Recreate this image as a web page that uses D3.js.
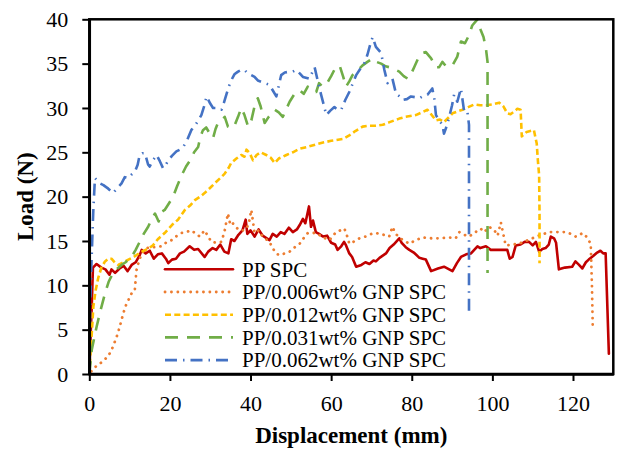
<!DOCTYPE html>
<html>
<head>
<meta charset="utf-8">
<script src="https://cdn.jsdelivr.net/npm/d3@7"></script>
<style>
  html, body { margin: 0; padding: 0; background: #fff; }
  svg { display: block; }
  text { font-family: "Liberation Serif", "Times New Roman", serif; fill: #000; }
</style>
</head>
<body>
<svg id="chart" width="618" height="452"></svg>
<script>
// ---------------- DATA ----------------
const seriesNames = ["PP SPC", "PP/0.006wt% GNP SPC", "PP/0.012wt% GNP SPC", "PP/0.031wt% GNP SPC", "PP/0.062wt% GNP SPC"];
const xTicks = [0, 20, 40, 60, 80, 100, 120];
const yTicks = [0, 5, 10, 15, 20, 25, 30, 35, 40];

// [displacement (mm), load (N)]
const ppSpc = [[0,0],[0.3,4],[0.6,7.6],[0.9,12.0],[1.8,12.4],[3,12],[4,11.8],[5,11.2],[5.5,11.8],[6.4,11.4],[7.5,11.9],[8.5,12.2],[9.5,11.6],[10.5,12.3],[11.5,12.6],[12.5,13.4],[13,14],[14,13.6],[15,13.9],[16,13.0],[17,13.5],[18,13.6],[19,13.0],[19.6,12.5],[20.5,12.9],[21.5,13.0],[22.5,13.6],[23.5,13.8],[24.9,14.4],[26,14.0],[27,14.1],[28.6,13.2],[29.5,13.8],[30.6,14.2],[31.5,14.0],[32.5,14.6],[33.5,13.8],[34.5,13.6],[35.2,15.2],[36,15.0],[37,15.7],[38,16.2],[38.8,17.4],[39.2,15.8],[40,16.2],[41,15.5],[42,16.3],[43,15.6],[44.7,15.1],[45.5,15.8],[46.5,15.5],[47.5,16.0],[48.4,15.8],[49.5,16.5],[50.5,16.0],[51.5,16.3],[52.2,16.8],[53,17.5],[53.6,17.0],[54.5,18.9],[55,16.6],[55.5,17.3],[56.2,16.0],[57,15.8],[58,15.5],[59,15.6],[60,14.8],[61,14.6],[61.6,14.0],[62.5,14.4],[63.2,14.9],[63.7,14.5],[64.5,13.6],[65.2,13.2],[66.2,12.1],[67.5,12.3],[68.5,12.6],[69.5,12.4],[70.5,12.8],[71.1,12.7],[72,13.1],[73.6,13.6],[74.5,14.2],[75.5,14.6],[76.9,15.3],[77.5,14.8],[78.5,14.3],[79.4,14.0],[80.5,13.7],[81.9,13.1],[82.7,13.0],[83.5,12.9],[84.8,11.6],[86.5,11.9],[88,12.1],[90.1,11.6],[91.2,12.5],[92.2,13.2],[93.5,13.5],[94.7,13.6],[95.5,14.0],[96.3,14.4],[97,14.2],[98.4,14.4],[99.6,14.0],[101,14.0],[103.7,14.0],[104.3,13.0],[105,13.2],[105.8,14.5],[107,14.6],[108,14.9],[109.1,14.9],[110,14.5],[110.8,14.9],[111.6,13.8],[112.4,14.1],[113.2,14.2],[114,14.6],[114.5,15.5],[115.3,15.3],[115.8,14.8],[116.5,11.8],[118,12.0],[119.8,12.1],[120.6,12.7],[121.5,12.3],[122.3,11.9],[123.2,12.6],[123.9,12.9],[125,13.3],[126,13.7],[126.8,13.9],[127.5,13.6],[128.1,13.6],[128.9,2.3]];

const gnp006 = [[0.5,0.3],[1.5,0.8],[3,1.3],[4.7,2.0],[5.8,3.0],[6.8,4.2],[7.6,5.4],[8.4,6.8],[9.2,7.9],[10.1,8.7],[10.8,9.4],[11.3,9.5],[11.7,11.7],[12.3,12.7],[13,13.6],[14.2,14.2],[16,14.3],[17.9,14.4],[19,14.8],[20.4,15.1],[21.5,15.5],[22.9,15.9],[24,16.0],[25.3,16.2],[26.5,15.8],[27.4,15.5],[28.6,16.2],[29.5,15.5],[30.3,14.9],[31.5,14.8],[32.8,14.9],[33.6,16.2],[34.4,18.1],[35,16.8],[35.6,17.0],[36.5,16.5],[37.3,16.2],[38.5,16.2],[39.5,16.8],[40.2,18.5],[41,15.9],[42,16.2],[43,15.5],[44.7,14.9],[45.5,14.2],[46.3,13.6],[47.2,13.4],[48.5,13.6],[49.7,13.8],[51,14.3],[52.2,14.7],[53.3,15.4],[54.2,15.9],[55.5,15.9],[56.3,15.9],[58,15.4],[59.6,15.1],[60.5,15.6],[61.2,16.0],[62.3,16.2],[63.3,16.4],[64,15.5],[64.5,14.7],[65.5,14.9],[67,15.3],[68.5,15.5],[70,15.8],[71.1,15.9],[73,15.7],[74.4,15.5],[75.2,16.6],[76,15.8],[77.5,15.2],[79.4,14.7],[81,15.1],[82.7,15.4],[85,15.3],[87,15.3],[89.3,15.4],[90.9,15.3],[91.8,16.0],[93,15.7],[94.2,15.5],[95.5,15.9],[97.1,16.4],[98,16.0],[99.2,16.6],[100.5,16.2],[101.3,15.6],[102.1,17.1],[103.3,14.5],[105,14.6],[106.6,14.7],[108.3,15.0],[109.9,15.3],[111.5,15.6],[112.8,15.8],[114,16.0],[116,16.0],[118.2,16.0],[119.5,15.8],[120.6,15.5],[121.5,15.6],[122.3,15.9],[123.3,15.5],[124.4,14.7],[124.7,10],[124.9,5.3]];

const gnp012 = [[0,0],[0.2,1.6],[0.6,4.5],[1,7.6],[1.6,9.5],[2.2,10.8],[3,12.0],[3.9,12.7],[4.7,13.0],[5.5,13.0],[6.3,12.6],[7.2,12.3],[8.5,12.6],[9.7,12.9],[11,13.2],[12,13.5],[13,13.8],[14.5,14.1],[15.8,14.5],[17,15.2],[18.7,15.9],[20.5,16.8],[22,17.4],[23.7,18.5],[25,19.0],[26.2,19.6],[27.5,20.0],[28.6,20.4],[30,21.0],[31.1,21.5],[32.5,22.1],[33.6,22.6],[34.5,23.2],[35.2,23.8],[36.5,24.3],[37.7,24.7],[38.5,24.5],[39,25.3],[39.8,24.9],[40.6,24.1],[41.5,24.7],[42.5,25.0],[43.9,24.7],[45,24.4],[46,23.8],[47,24.3],[48,24.5],[48.9,24.7],[50.5,25.0],[52.2,25.4],[54,25.6],[56.3,25.9],[58,26.1],[60,26.3],[62.9,26.5],[64.5,26.9],[66,27.4],[67.8,27.9],[69.5,28.0],[71,28.0],[72.8,28.1],[74.5,28.4],[76.9,28.8],[78.5,29.0],[81,29.2],[82.5,29.5],[83.9,29.8],[84.8,29.3],[86,28.6],[87,28.7],[88,28.4],[89.3,29.0],[90.1,29.4],[91.3,29.6],[92.6,29.8],[94,30.1],[95.5,30.4],[97,30.3],[98.4,30.3],[100,30.4],[101.7,30.6],[102.7,30.2],[103.7,29.4],[104.5,29.3],[105.4,29.6],[106.2,29.9],[107,29.8],[107.3,26.8],[108.5,27.3],[110.3,27.5],[111,26],[111.3,24],[111.6,22.4],[111.7,18],[111.7,12.5]];

const gnp031 = [[0,0],[0.3,1.3],[0.6,2.7],[1.2,4.0],[1.8,5.3],[2.8,7.2],[3.9,9.1],[4.8,10.4],[5.9,11.4],[7,11.9],[8,12.3],[9,12.6],[10.5,13.2],[11.5,14.0],[12.5,14.9],[13.5,15.8],[14.6,16.6],[15.5,17.5],[16.3,18.1],[17.2,17.2],[18,18.3],[18.7,18.5],[19.7,19.2],[20.8,20.0],[21.8,21.2],[22.9,22.4],[24,23.4],[25.3,24.3],[26,25.0],[27,25.6],[27.6,26.8],[28.2,27.5],[29,27.8],[29.9,27.1],[30.7,26.6],[31.3,27.6],[31.9,28.3],[32.8,28.5],[33.6,29.0],[34.4,27.9],[35.2,27.7],[36.1,28.1],[36.9,29.0],[37.7,30.0],[38.5,29.2],[39.4,27.9],[40.2,28.6],[41,30.2],[41.8,31.1],[42.5,30.2],[43.5,28.3],[44.5,29.0],[46,29.8],[47,29.5],[48,29.0],[49,30.0],[49.7,30.7],[50.8,31.5],[52.2,32.0],[53.2,31.6],[54.2,32.4],[55.3,32.0],[56.3,31.8],[57,32.8],[57.9,32.4],[59,32.8],[60,33.6],[60.8,34.3],[62.1,34.8],[63,33.5],[63.7,32.4],[64.5,33.0],[65.3,33.7],[66.5,34.2],[67.8,34.8],[69,35.2],[70.3,35.6],[71.2,35.2],[72.4,35.0],[73.5,34.7],[74.4,34.6],[75.5,34.4],[76.9,34.1],[78,33.6],[79,33.3],[79.8,33.8],[80.6,34.6],[81.5,35.5],[82.7,36.2],[83.5,36.3],[84.8,35.6],[86,34.6],[86.8,34.6],[87.6,35.2],[88.5,34.7],[89.3,34.8],[90.1,34.8],[91.3,35.8],[92.2,37.5],[93.2,37.3],[94.2,38.2],[95,39.3],[96.3,40.0],[97.1,38.8],[97.8,38.0],[98.4,36.7],[98.8,35.2],[98.8,11.4]];

const gnp062 = [[0,0],[0.2,7.2],[0.5,12],[0.8,16],[1,18.5],[1.4,22.1],[2,21.8],[2.6,21.5],[3.5,21.3],[4.7,20.9],[5.9,20.4],[7,21.0],[8,21.5],[8.8,22.2],[9.7,22.1],[10.5,22.5],[11.3,22.8],[12,23.6],[12.5,24.7],[13.2,24.9],[13.8,24.9],[14.6,23.6],[15,23.4],[15.8,24.1],[16.7,24.7],[17.5,24.0],[18.3,23.2],[19,23.6],[19.6,24.1],[20.5,24.6],[21.6,25.1],[22.5,25.3],[23.3,25.6],[24.3,26.4],[25.3,27.5],[26.5,28.2],[27.8,29.2],[28.5,30.2],[29.1,31.3],[30,30.5],[30.7,30.0],[31.8,30.0],[32.8,29.8],[33.4,30.6],[34,31.5],[34.6,32.4],[35.2,33.1],[36,33.8],[36.9,34.1],[37.7,34.3],[38.5,34.3],[39.3,33.9],[40.2,33.7],[41,33.5],[41.8,33.1],[43,32.9],[44.7,32.6],[45.5,32.0],[46.4,31.3],[47,32.5],[47.6,33.7],[48.5,34.0],[49.7,34.1],[50.5,34.1],[51.3,34.3],[52.2,33.9],[53,33.5],[54.6,33.3],[55.2,33.9],[55.9,34.6],[56.7,33.0],[57.5,31.5],[58.2,30.3],[58.8,29.2],[59.8,29.7],[60.8,30.1],[61.6,29.8],[62.5,29.8],[63.5,30.9],[64.5,31.8],[65.3,32.7],[66.2,33.7],[67.2,34.4],[68.2,35.0],[69,36.0],[69.6,37.0],[70.3,38.0],[71.1,36.9],[72.4,36.2],[73.2,34.3],[74,32.8],[75.2,33.3],[76.1,31.6],[77,31.3],[77.7,30.9],[78.8,31.0],[79.8,31.3],[81,31.2],[81.9,31.1],[83,31.4],[83.9,31.5],[85.1,32.2],[85.6,31],[86,29.2],[86.8,28.6],[87.6,28.1],[88,27.1],[88.7,28.0],[89.3,29.0],[90,30.3],[90.5,31.5],[91.3,30.7],[92.2,32.2],[93,29.6],[93.8,29.6],[94.2,28.1],[94.2,7.0]];

const seriesData = [ppSpc, gnp006, gnp012, gnp031, gnp062];
const seriesColors = ["#C00000", "#ED7D31", "#FFC000", "#70AD47", "#4472C4"];
const seriesDash = [null, "0.1 6.3", "6 3.3", "13 9", "12 6 1.5 6"];
const seriesCap = ["round", "round", "butt", "butt", "butt"];
const seriesWidth = [2.6, 2.8, 2.6, 2.6, 2.6];

// ---------------- LAYOUT ----------------
const svg = d3.select("#chart");
const pLeft = 89.3, pRight = 613.3, pTop = 19.3, pBottom = 374;

const x = d3.scaleLinear().domain([0, 130]).range([pLeft, pRight]);
const y = d3.scaleLinear().domain([0, 40]).range([pBottom, pTop]);

// series
const line = d3.line().x(d => x(d[0])).y(d => y(d[1]));
const g = svg.append("g");
seriesData.forEach((data, i) => {
  g.append("path")
    .datum(data)
    .attr("d", line)
    .attr("fill", "none")
    .attr("stroke", seriesColors[i])
    .attr("stroke-width", seriesWidth[i])
    .attr("stroke-linejoin", "round")
    .attr("stroke-linecap", seriesCap[i])
    .attr("stroke-dasharray", seriesDash[i]);
});

// frame (top & right)
svg.append("rect")
  .attr("x", pLeft).attr("y", pTop)
  .attr("width", pRight - pLeft).attr("height", pBottom - pTop)
  .attr("fill", "none").attr("stroke", "#000").attr("stroke-width", 2.5);

// axes
const xAxis = svg.append("g")
  .attr("transform", `translate(0,${pBottom})`)
  .call(d3.axisBottom(x).tickValues(xTicks).tickSize(7).tickSizeOuter(0).tickPadding(14));
const yAxis = svg.append("g")
  .attr("transform", `translate(${pLeft},0)`)
  .call(d3.axisLeft(y).tickValues(yTicks).tickSize(7).tickSizeOuter(0).tickPadding(14));

[xAxis, yAxis].forEach(a => {
  a.select(".domain").attr("stroke", "#000").attr("stroke-width", 2.5);
  a.selectAll(".tick line").attr("stroke", "#000").attr("stroke-width", 2);
  a.selectAll(".tick text")
    .attr("font-family", "'Liberation Serif', 'Times New Roman', serif")
    .attr("font-size", 22).attr("fill", "#000");
});

// axis titles
svg.append("text")
  .attr("x", (pLeft + pRight) / 2).attr("y", 443)
  .attr("text-anchor", "middle")
  .attr("font-size", 23).attr("font-weight", "bold")
  .text("Displacement (mm)");

svg.append("text")
  .attr("transform", `translate(33,${(pTop + pBottom) / 2}) rotate(-90)`)
  .attr("text-anchor", "middle")
  .attr("font-size", 23).attr("font-weight", "bold")
  .text("Load (N)");

// legend
const legend = svg.append("g");
const legX0 = 165, legX1 = 233, legTextX = 242, legY0 = 269.3, legStep = 22.7;
seriesNames.forEach((name, i) => {
  const yy = legY0 + i * legStep;
  legend.append("line")
    .attr("x1", legX0).attr("x2", legX1).attr("y1", yy).attr("y2", yy)
    .attr("stroke", seriesColors[i])
    .attr("stroke-width", seriesWidth[i])
    .attr("stroke-linecap", seriesCap[i])
    .attr("stroke-dasharray", seriesDash[i]);
  legend.append("text")
    .attr("x", legTextX).attr("y", yy + 7.2)
    .attr("font-size", 21)
    .text(name);
});
</script>
</body>
</html>
